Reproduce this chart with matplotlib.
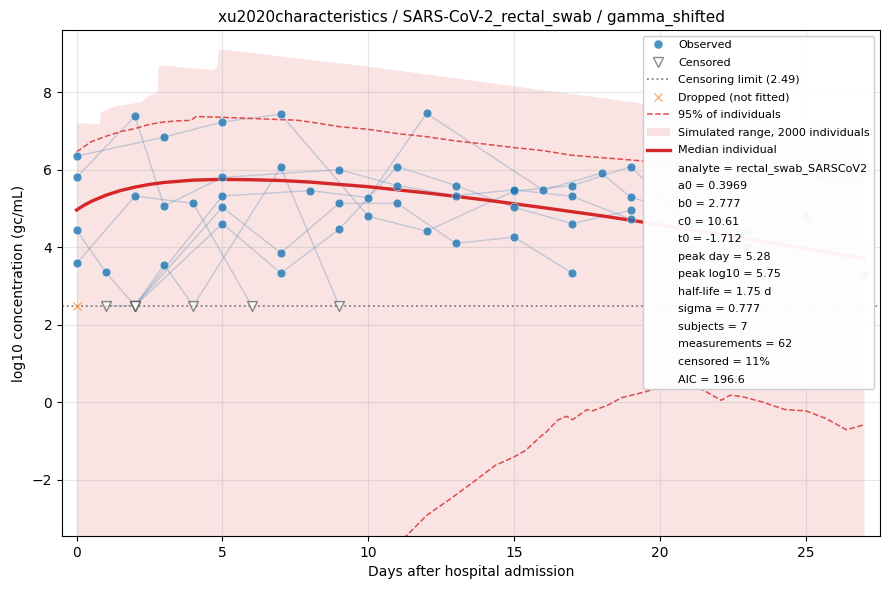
import numpy as np
import matplotlib
matplotlib.use('Agg')
import matplotlib.pyplot as plt
from matplotlib.lines import Line2D
from matplotlib.patches import Patch

# observed trajectories, None = censored (below limit)
subject_days = [
    [0, 3, 5, 7, 10, 12, 15, 17, 19, 21, 23],
    [0, 2, 3, 5, 9, 11, 13, 15, 17, 19],
    [0, 2, 4, 6],
    [2, 5, 8, 10, 12, 16, 18, 19, 23, 25, 27],
    [0, 1, 2, 5, 7, 9, 11, 13, 15, 17],
    [1, 2, 5, 7, 9, 11, 13, 15, 17, 19],
    [2, 3, 4, 7, 9],
]
subject_vals = [
    [6.35, 6.84, 7.23, 7.43, 4.80, 4.41, 5.45, 5.59, 6.08, 4.57, 4.01],
    [5.80, 7.38, 5.06, 5.80, 6.00, 5.59, 5.33, 5.48, 5.31, 4.72],
    [3.58, 5.32, 5.13, None],
    [None, 5.32, 5.46, 5.28, 7.45, 5.47, 5.91, 5.29, 4.38, 4.80, 3.30],
    [4.44, 3.35, None, 5.03, 3.85, 5.13, 5.13, 4.10, 4.26, 3.33],
    [None, None, 4.61, 3.33, 4.46, 6.08, 5.59, 5.03, 4.61, 4.95],
    [None, 3.55, None, 6.06, None],
]
cens_limit = 2.49
dropped_days = [0]

# median individual
median_days = [0, 0.25, 0.5, 1, 1.5, 2, 2.5, 3, 4, 5, 6, 7, 8, 10, 12, 14, 16, 18, 20, 22, 24, 27]
median_vals = [4.96, 5.08, 5.18, 5.34, 5.46, 5.55, 5.62, 5.67, 5.73, 5.75, 5.74, 5.72, 5.68,
               5.56, 5.40, 5.22, 5.02, 4.81, 4.58, 4.34, 4.09, 3.71]

# 95% of individuals
upper95_days = [0, 0.5, 1, 1.5, 2, 2.5, 3, 3.5, 3.9, 4.1, 5, 6, 7, 7.5, 8, 8.5, 9, 10, 11, 12, 13,
                14, 15, 16, 17, 18, 19, 21, 23, 25, 27]
upper95_vals = [6.46, 6.72, 6.86, 6.98, 7.06, 7.17, 7.23, 7.26, 7.27, 7.37, 7.35, 7.32, 7.29, 7.28,
                7.23, 7.17, 7.11, 7.04, 6.93, 6.85, 6.74, 6.66, 6.57, 6.49, 6.37, 6.31, 6.25, 6.12,
                5.98, 5.85, 5.71]
lower95_days = [10.8, 11.33, 12, 12.8, 13.6, 14.35, 15, 15.4, 15.9, 16.1, 16.5, 16.8, 17.0, 17.5,
                17.7, 18.2, 18.7, 19.5, 20.1, 20.3, 20.8, 21.5, 22.1, 22.4, 22.8, 23.5, 24.3, 25,
                25.7, 26.4, 27]
lower95_vals = [-3.8, -3.43, -2.92, -2.5, -2.06, -1.63, -1.41, -1.24, -0.89, -0.77, -0.46, -0.36,
                -0.45, -0.19, -0.22, -0.08, 0.12, 0.27, 0.40, 0.35, 0.50, 0.31, 0.05, 0.18, 0.15,
                0.01, -0.19, -0.22, -0.42, -0.71, -0.58]

# simulated range (upper envelope; lower is below the axis)
sim_days = [0, 0.77, 0.82, 1.28, 2.19, 2.48, 2.76, 2.79, 2.9, 4.7, 4.82, 4.87, 5.0, 8.7, 9.7, 19.66, 27]
sim_upper = [7.21, 7.19, 7.49, 7.64, 7.75, 7.92, 8.01, 8.65, 8.70, 8.58, 8.74, 9.10, 9.11, 8.78,
             8.70, 7.69, 6.96]
sim_lower = -6.0

params = ['analyte = rectal_swab_SARSCoV2', 'a0 = 0.3969', 'b0 = 2.777', 'c0 = 10.61',
          't0 = -1.712', 'peak day = 5.28', 'peak log10 = 5.75', 'half-life = 1.75 d',
          'sigma = 0.777', 'subjects = 7', 'measurements = 62', 'censored = 11%', 'AIC = 196.6']

red = '#d62728'
blue = '#1f77b4'

fig, ax = plt.subplots(figsize=(8.9, 5.9), dpi=100)

ax.fill_between(sim_days, sim_lower, sim_upper, color=red, alpha=0.13, linewidth=0, zorder=1)
ax.plot(upper95_days, upper95_vals, '--', color=red, alpha=0.8, lw=1.1, zorder=3)
ax.plot(lower95_days, lower95_vals, '--', color=red, alpha=0.8, lw=1.1, zorder=3)
ax.axhline(cens_limit, color='gray', ls=':', lw=1.3, zorder=2)

for days, vals in zip(subject_days, subject_vals):
    ys = [cens_limit if v is None else v for v in vals]
    ax.plot(days, ys, '-', color='steelblue', alpha=0.3, lw=1, zorder=2)
    od = [d for d, v in zip(days, vals) if v is not None]
    ov = [v for v in vals if v is not None]
    cd = [d for d, v in zip(days, vals) if v is None]
    ax.scatter(od, ov, s=40, color=blue, alpha=0.8, zorder=5, edgecolor='white', linewidths=0.4)
    ax.scatter(cd, [cens_limit] * len(cd), s=50, marker='v', facecolor='white',
               edgecolor='0.35', alpha=0.7, zorder=5, linewidths=1)

ax.scatter(dropped_days, [cens_limit] * len(dropped_days), marker='x', s=36,
           color='#ff7f0e', alpha=0.6, zorder=5, linewidths=1)

ax.plot(median_days, median_vals, '-', color=red, lw=2.4, zorder=4)

ax.set_xlim(-0.5, 27.55)
ax.set_ylim(-3.45, 9.6)
ax.set_xticks([0, 5, 10, 15, 20, 25])
ax.grid(True, alpha=0.3)
ax.set_xlabel('Days after hospital admission')
ax.set_ylabel('log10 concentration (gc/mL)')
ax.set_title('xu2020characteristics / SARS-CoV-2_rectal_swab / gamma_shifted', fontsize=11)

handles = [
    Line2D([], [], marker='o', ls='none', color=blue, alpha=0.8, markersize=6.5,
           markeredgecolor='white', markeredgewidth=0.4),
    Line2D([], [], marker='v', ls='none', markerfacecolor='white', markeredgecolor='0.35',
           alpha=0.7, markersize=7),
    Line2D([], [], ls=':', color='gray', lw=1.3),
    Line2D([], [], marker='x', ls='none', color='#ff7f0e', alpha=0.6, markersize=6),
    Line2D([], [], ls='--', color=red, alpha=0.8, lw=1.1),
    Patch(facecolor=red, alpha=0.13, linewidth=0),
    Line2D([], [], ls='-', color=red, lw=2.4),
]
labels = ['Observed', 'Censored', 'Censoring limit (2.49)', 'Dropped (not fitted)',
          '95% of individuals', 'Simulated range, 2000 individuals', 'Median individual']
for p in params:
    handles.append(Line2D([], [], ls='none'))
    labels.append(p)
leg = ax.legend(handles, labels, loc='upper right', fontsize=8, framealpha=0.95,
                labelspacing=0.68)
leg.set_zorder(10)

fig.subplots_adjust(left=0.0697, right=0.9888, top=0.949, bottom=0.0915)
plt.savefig('out.png', dpi=100)
